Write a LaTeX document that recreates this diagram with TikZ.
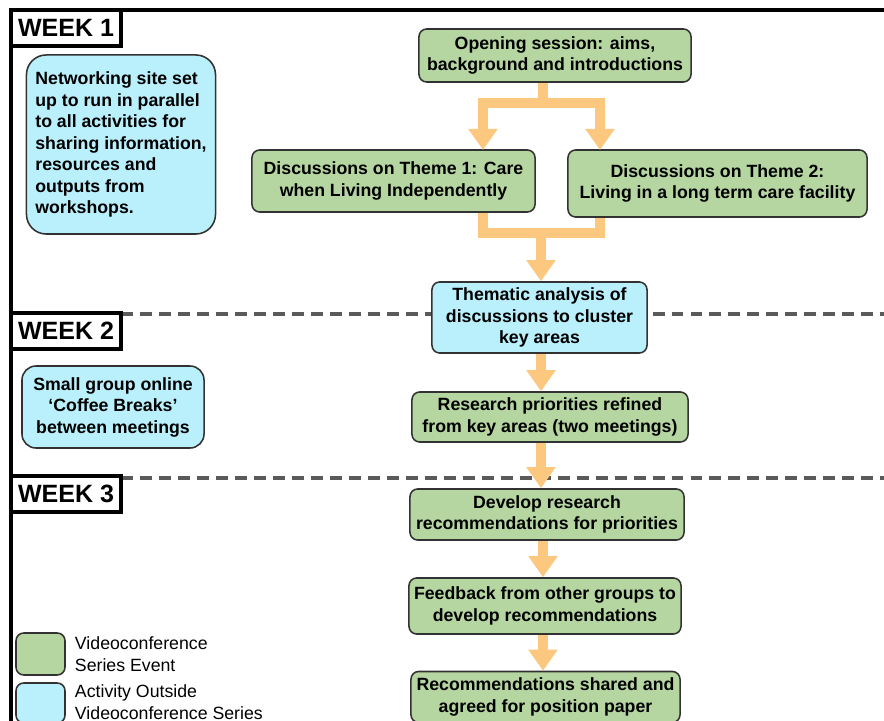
\documentclass[tikz,border=0pt]{standalone}
\usepackage{fontspec}
\setmainfont{Liberation Sans}
\usetikzlibrary{arrows.meta,calc}

\definecolor{vcgreen}{RGB}{181,214,160}
\definecolor{outcyan}{RGB}{185,240,252}
\definecolor{flowor}{RGB}{252,200,128}
\definecolor{boxline}{RGB}{50,50,50}
\definecolor{sepgray}{RGB}{90,90,90}

\begin{document}
\begin{tikzpicture}[x=0.025cm,y=-0.025cm,
  font=\fontsize{12.6}{15.3}\selectfont\bfseries,
  event/.style={draw=boxline,line width=1.1pt,rounded corners=5.5pt,fill=vcgreen,align=center,inner sep=2pt},
  outside/.style={event,fill=outcyan},
  weeklabel/.style={draw=black,line width=3pt,fill=white,minimum width=2.75cm,minimum height=0.9cm,font=\fontsize{17.8}{20}\selectfont\bfseries},
  swatch/.style={draw=boxline,line width=1.1pt,rounded corners=5.5pt,minimum width=1.225cm},
  keytext/.style={anchor=west,align=left,font=\fontsize{12.6}{15.6}\selectfont},
  flowbar/.style={draw=flowor,line width=7.1pt},
  flow/.style={flowbar,-{Triangle[width=20pt,length=15pt]}},
  weeksep/.style={draw=sepgray,line width=2.4pt,dash pattern=on 8.5pt off 5pt}]

\useasboundingbox (0,0) rectangle (884,721);

% week separators
\draw[weeksep] (121,314) -- (884,314);
\draw[weeksep] (121,478) -- (884,478);

% frame
\draw[line width=3pt] (11,721) -- (11,10) -- (884,10);

\node[weeklabel] (wk1) at (66,28) {WEEK 1};
\node[weeklabel] (wk2) at (66,331) {WEEK 2};
\node[weeklabel] (wk3) at (66,494) {WEEK 3};

% main column
\node[event,minimum width=6.8cm,minimum height=1.325cm] (open) at (555,55.5)
  {Opening session: aims,\\background and introductions};
\node[event,minimum width=7.075cm,minimum height=1.55cm] (th1) at (393.5,181)
  {Discussions on Theme 1: Care\\when Living Independently};
\node[event,minimum width=7.475cm,minimum height=1.675cm] (th2) at (717.5,183.5)
  {Discussions on Theme 2:\\Living in a long term care facility};
\node[outside,minimum width=5.375cm,minimum height=1.775cm] (them) at (539.5,317.5)
  {Thematic analysis of\\discussions to cluster\\key areas};
\node[event,minimum width=6.9cm,minimum height=1.25cm] (prio) at (550,417)
  {Research priorities refined\\from key areas (two meetings)};
\node[event,minimum width=6.85cm,minimum height=1.275cm] (dev) at (547,514.5)
  {Develop research\\recommendations for priorities};
\node[event,minimum width=6.8cm,minimum height=1.4cm] (feed) at (545,606)
  {Feedback from other groups to\\develop recommendations};
\node[event,minimum width=6.725cm,minimum height=1.275cm] (rec) at (545.5,697)
  {Recommendations shared and\\agreed for position paper};

% orange flow arrows
\coordinate (split) at (543,103);
\coordinate (t1) at (483,150);
\coordinate (t2) at (600,150);
\coordinate (merge) at (541,233);
\draw[flow] (open.south -| split) -- (split) -| (t1);
\draw[flow] (split) -| (t2);
\draw[flowbar] (th1.south -| t1) |- (merge) -| (th2.south -| t2);
\draw[flow] (merge) -- (them.north -| merge);
\draw[flow] (them.south -| merge) -- (prio.north -| merge);
\draw[flow] (prio.south -| merge) -- (dev.north -| merge);
\draw[flow] (dev.south -| split) -- (feed.north -| split);
\draw[flow] (feed.south -| split) -- (rec.north -| split);

% side activities
\node[outside,rounded corners=14pt,minimum width=4.725cm,minimum height=4.475cm,align=left] (net) at (121,144.5)
  {Networking site set\\up to run in parallel\\to all activities for\\sharing information,\\resources and\\outputs from\\workshops.};
\node[outside,rounded corners=10pt,minimum width=4.55cm,minimum height=2.05cm] (cof) at (113,407)
  {Small group online\\`Coffee Breaks'\\between meetings};

% key
\node[swatch,fill=vcgreen,minimum height=1.05cm] (keyev) at (40.5,654) {};
\node[swatch,fill=outcyan,minimum height=1.0cm] (keyout) at (40.5,703) {};
\node[keytext] (keyevtxt) at (70,654) {Videoconference\\Series Event};
\node[keytext] (keyouttxt) at (70,702) {Activity Outside\\Videoconference Series};

\end{tikzpicture}
\end{document}
